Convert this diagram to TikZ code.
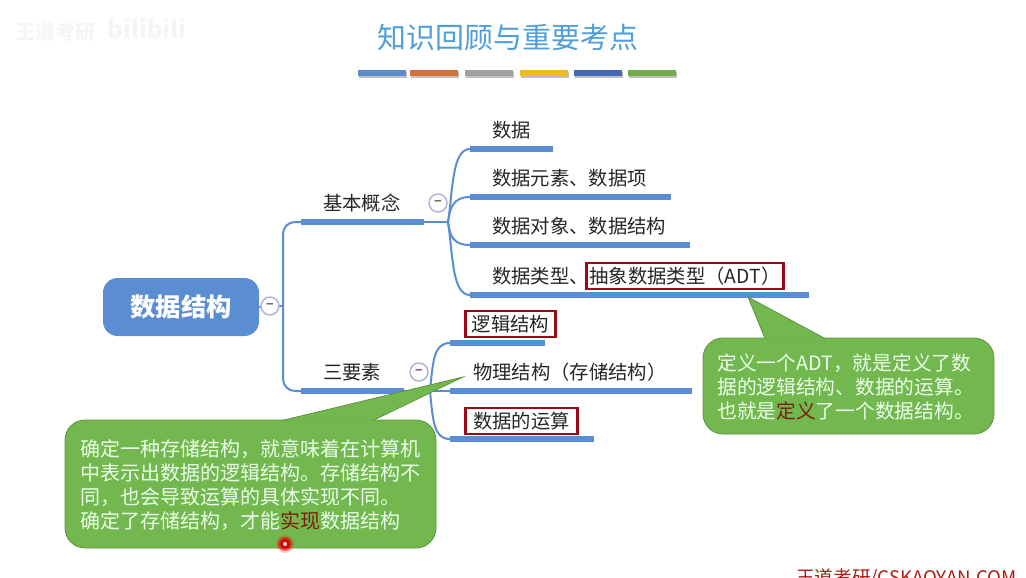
\documentclass[tikz,border=0pt]{standalone}
\usepackage{fontspec}
\setmainfont{Noto Sans CJK SC}
\definecolor{mapblue}{HTML}{5B8DD2}
\definecolor{boxred}{HTML}{9A0A14}
\definecolor{notegreen}{HTML}{72B84E}
\definecolor{noteedge}{HTML}{5F9440}
\definecolor{wordred}{HTML}{7A1F0C}
\tikzset{
  branch/.style={draw=mapblue, line width=1.5pt},
  bar/.style={draw=mapblue, line width=4.2pt},
  label/.style={anchor=west, inner sep=0pt, font=\fontsize{14.5}{16}\selectfont, text=black!85},
  redbox/.style={draw=boxred, line width=2.2pt, fill=white, inner sep=0pt, text=black!85, font=\fontsize{14.5}{16}\selectfont},
  foldmark/.style={circle, draw=blue!35!gray!45, fill=white, line width=1.1pt, minimum size=13.5pt, inner sep=0pt, text=gray!80!violet, font=\fontsize{11}{11}\selectfont\bfseries},
  notebody/.style={fill=notegreen, draw=noteedge, line width=0.6pt},
  notetext/.style={anchor=west, align=left, inner sep=0pt, text=white!92!green, font=\fontsize{15}{18}\selectfont},
  strip/.style={line width=4.5pt}
}
\begin{document}
\begin{tikzpicture}[x=0.75pt, y=-0.75pt]
\useasboundingbox (0,0) rectangle (1026,578);

% Watermark
\node[text=black!4, font=\fontsize{15}{15}\selectfont\bfseries] (wmark) at (56,32) {王道考研};
\node[text=black!4, font=\fontsize{18}{18}\selectfont\bfseries] (wlogo) at (147,29) {bilibili};

% Title
\node[text=mapblue!85!cyan, font=\fontsize{21.7}{24}\selectfont] (title) at (508,38) {知识回顾与重要考点};
\foreach \xs/\cc in {358/5B8DC8,410/D4713A,465/A0A0A0,520/F2BC1B,574/4469B4,628/72AD4C}{
  \definecolor{stripcol}{HTML}{\cc}
  \draw[strip, black!25] (\xs+1,75) -- (\xs+49,75);
  \draw[strip, stripcol] (\xs,73) -- (\xs+48,73);
}

% Root
\node[fill=mapblue, rounded corners=11pt, minimum width=117pt, minimum height=43.5pt, inner sep=0pt, text=white, font=\fontsize{19}{22}\selectfont\bfseries] (root) at (181,307) {数据结构};

% Junction points
\coordinate (trunk) at (283,306);
\coordinate (gaiL) at (301,222);
\coordinate (gaiR) at (424,222);
\coordinate (gaiJ) at (448,222);
\coordinate (yaoL) at (301,391);
\coordinate (yaoR) at (404,391);
\coordinate (yaoJ) at (430,391);
\coordinate (itemAL) at (470,149);
\coordinate (itemAR) at (553,149);
\coordinate (itemBL) at (470,197);
\coordinate (itemBR) at (671,197);
\coordinate (itemCL) at (470,245);
\coordinate (itemCR) at (690,245);
\coordinate (itemDL) at (470,295);
\coordinate (itemDR) at (809,295);
\coordinate (partAL) at (450,343);
\coordinate (partAR) at (545,343);
\coordinate (partBL) at (450,391);
\coordinate (partBR) at (692,391);
\coordinate (partCL) at (450,439);
\coordinate (partCR) at (594,439);

% Branches
\draw[branch] (root.east) -- (trunk);
\draw[branch, rounded corners=9pt] (gaiL) -| (trunk) |- (yaoL);
\draw[branch] (gaiR) -- (gaiJ);
\draw[branch] (gaiJ) .. controls (453,190) and (452,149) .. (itemAL);
\draw[branch] (gaiJ) .. controls (450,208) and (453,197) .. (itemBL);
\draw[branch] (gaiJ) .. controls (450,236) and (453,245) .. (itemCL);
\draw[branch] (gaiJ) .. controls (453,255) and (452,295) .. (itemDL);
\draw[branch] (yaoR) -- (partBL);
\draw[branch] (yaoJ) .. controls (433,360) and (434,343) .. (partAL);
\draw[branch] (yaoJ) .. controls (433,422) and (434,439) .. (partCL);

% Bars
\draw[bar] (gaiL) -- (gaiR);
\draw[bar] (yaoL) -- (yaoR);
\draw[bar] (itemAL) -- (itemAR);
\draw[bar] (itemBL) -- (itemBR);
\draw[bar] (itemCL) -- (itemCR);
\draw[bar] (itemDL) -- (itemDR);
\draw[bar] (partAL) -- (partAR);
\draw[bar] (partBL) -- (partBR);
\draw[bar] (partCL) -- (partCR);

% Fold marks
\node[foldmark] (foldRoot) at (270,306) {–};
\node[foldmark] (foldGai) at (438,203) {–};
\node[foldmark] (foldYao) at (419,372) {–};

% Labels
\node[label] (gai) at (323,203) {基本概念};
\node[label] (yao) at (323,372) {三要素};
\node[label] (itemA) at (492,130) {数据};
\node[label] (itemB) at (492,178) {数据元素、数据项};
\node[label] (itemC) at (492,226) {数据对象、数据结构};
\node[label] (itemD) at (492,276) {数据类型、};
\node[redbox, minimum width=148pt, minimum height=19.5pt] (adt) at (685,276) {抽象数据类型（ADT）};
\node[redbox, minimum width=67pt, minimum height=19.5pt] (partA) at (510.5,324) {逻辑结构};
\node[label] (partB) at (473,372) {物理结构（存储结构）};
\node[redbox, minimum width=84pt, minimum height=19.5pt] (partC) at (521.5,421) {数据的运算};

% Right note
\coordinate (adtTip) at (748,297);
\coordinate (adtBaseA) at (765,338.5);
\coordinate (adtBaseB) at (825,338.5);
\draw[notebody, rounded corners=15pt] (703,338) rectangle (994,434);
\fill[notegreen] (adtBaseA) -- (adtTip) -- (adtBaseB) -- cycle;
\draw[noteedge, line width=0.6pt] (adtBaseA) -- (adtTip) -- (adtBaseB);
\node[notetext, font=\fontsize{14.8}{18}\selectfont] (adtNote) at (717,387) {定义一个ADT，就是定义了数\\据的逻辑结构、数据的运算。\\也就是\textcolor{wordred}{定义}了一个数据结构。};

% Left note
\coordinate (storeTip) at (463,377);
\coordinate (storeBaseA) at (282,420.5);
\coordinate (storeBaseB) at (373,420.5);
\draw[notebody, rounded corners=15pt] (65,420) rectangle (436,548);
\fill[notegreen] (storeBaseA) -- (storeTip) -- (storeBaseB) -- cycle;
\draw[noteedge, line width=0.6pt] (storeBaseA) -- (storeTip) -- (storeBaseB);
\node[notetext] (storeNote) at (80,485) {确定一种存储结构，就意味着在计算机\\中表示出数据的逻辑结构。存储结构不\\同，也会导致运算的具体实现不同。\\确定了存储结构，才能\textcolor{wordred}{实现}数据结构};

% Pointer dot
\fill[red, opacity=0.2] (285,544) circle (9);
\fill[red!90!black, opacity=0.55] (285,544) circle (7);
\fill[red!85!black] (285,544) circle (5);
\fill[white!80!pink] (285,544) circle (2);

% Footer
\node[anchor=base east, inner sep=0pt, text=boxred!85!orange, font=\fontsize{14}{14}\selectfont] (footer) at (1017,584) {王道考研/CSKAOYAN.COM};
\end{tikzpicture}
\end{document}
